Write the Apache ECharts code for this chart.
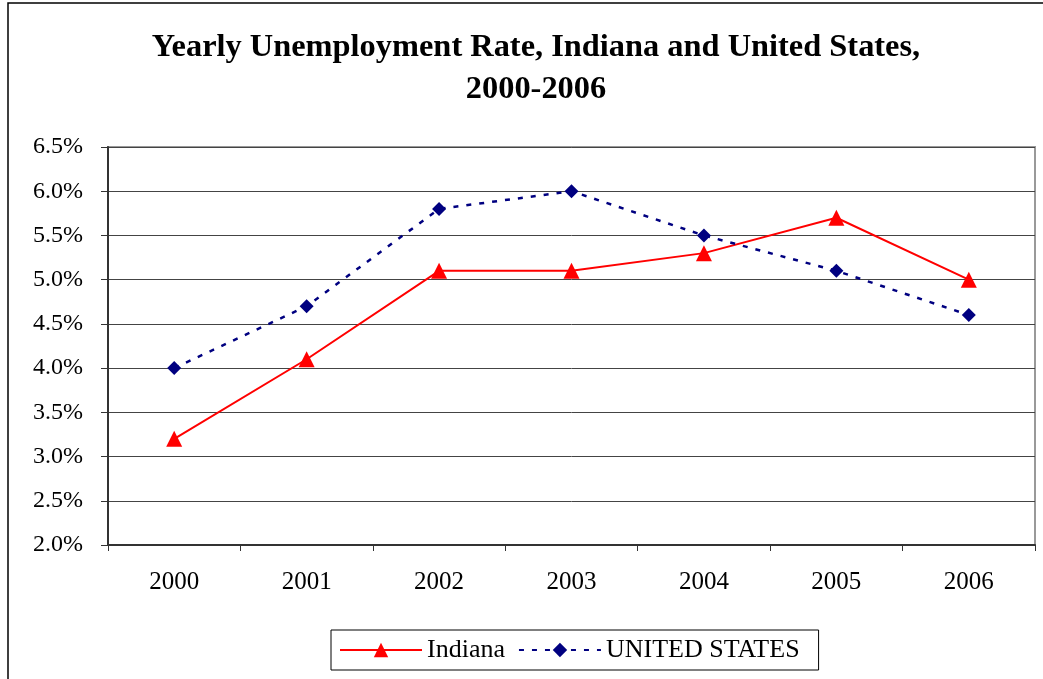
<!DOCTYPE html>
<html>
<head>
<meta charset="utf-8">
<script src="https://cdn.jsdelivr.net/npm/echarts@6/dist/echarts.min.js"></script>
<style>html,body{margin:0;padding:0;background:#fff}#c{width:1043px;height:679px}</style>
</head>
<body>
<div id="c"></div>
<script>
const categories = ['2000','2001','2002','2003','2004','2005','2006'];
const indiana = [3.2, 4.1, 5.1, 5.1, 5.3, 5.7, 5.0];
const unitedStates = [4.0, 4.7, 5.8, 6.0, 5.5, 5.1, 4.6];
const seriesNames = ['Indiana', 'UNITED STATES'];
const titleText = 'Yearly Unemployment Rate, Indiana and United States,\n2000-2006';

const serif = '"Liberation Serif", "Times New Roman", serif';
const chart = echarts.init(document.getElementById('c'));
chart.setOption({
  backgroundColor: '#fff',
  animation: false,
  graphic: [{
    type: 'rect', silent: true, z: -1,
    shape: { x: 8, y: 3, width: 1200, height: 900 },
    style: { fill: 'none', stroke: '#000', lineWidth: 1.5 }
  }],
  title: {
    text: titleText,
    left: 531,
    textAlign: 'center',
    top: 22,
    textStyle: { fontFamily: serif, fontWeight: 'bold', fontSize: 32.4, color: '#000', lineHeight: 42 }
  },
  grid: { left: 108, right: 8, top: 147, bottom: 134, show: true, borderColor: '#999', borderWidth: 2 },
  legend: {
    bottom: 9,
    left: 331,
    data: seriesNames,
    itemWidth: 82,
    itemHeight: 18,
    itemGap: 13,
    padding: [7, 19, 7, 8],
    borderColor: '#000',
    borderWidth: 1,
    textStyle: { fontFamily: serif, fontSize: 26, color: '#000' }
  },
  xAxis: {
    type: 'category',
    data: categories,
    boundaryGap: true,
    axisLine: { lineStyle: { color: '#333', width: 2 } },
    axisTick: { show: true, length: 6, lineStyle: { color: '#333', width: 1 } },
    axisLabel: { margin: 25, fontFamily: serif, fontSize: 25, color: '#000' },
    splitLine: { show: false }
  },
  yAxis: {
    type: 'value',
    min: 2.0, max: 6.5, interval: 0.5,
    axisLine: { show: true, lineStyle: { color: '#333', width: 2 } },
    axisTick: { show: true, length: 7, lineStyle: { color: '#333', width: 1 } },
    axisLabel: { margin: 25, fontFamily: serif, fontSize: 24, color: '#000',
      formatter: v => v.toFixed(1) + '%' },
    splitLine: { show: true, lineStyle: { color: '#444', width: 1 } }
  },
  series: [{
    name: seriesNames[0],
    type: 'line',
    data: indiana,
    symbol: 'triangle',
    symbolSize: 16,
    itemStyle: { color: '#ff0000' },
    lineStyle: { color: '#ff0000', width: 2 }
  }, {
    name: seriesNames[1],
    type: 'line',
    data: unitedStates,
    symbol: 'diamond',
    symbolSize: 14,
    itemStyle: { color: '#000080' },
    lineStyle: { color: '#000080', width: 2.5, type: [5, 8] }
  }]
});
</script>
</body>
</html>
